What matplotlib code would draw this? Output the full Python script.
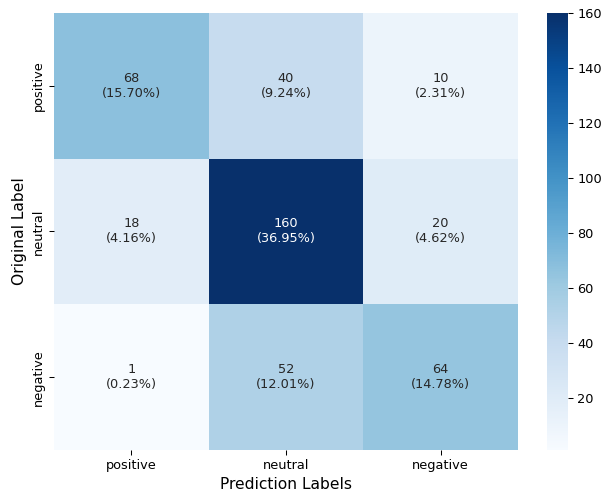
import matplotlib
matplotlib.use('Agg')
import matplotlib.pyplot as plt
import seaborn as sns
import numpy as np

labels = ['positive', 'neutral', 'negative']
row_positive = [68, 40, 10]
row_neutral = [18, 160, 20]
row_negative = [1, 52, 64]

cm = np.array([row_positive, row_neutral, row_negative])
total = cm.sum()
annot = np.array([[f"{v}\n({v / total * 100:.2f}%)" for v in row] for row in cm])

# reference looks like a slightly shrunk render, so use a lower dpi
dpi = 93
fig = plt.figure(figsize=(603 / dpi, 494 / dpi), dpi=dpi)
ax = fig.add_axes([0.0896, 0.0891, 0.7694, 0.8846])
cax = fig.add_axes([0.907, 0.0891, 0.035, 0.8846])

sns.heatmap(cm, annot=annot, fmt='', cmap='Blues', ax=ax, cbar_ax=cax,
            xticklabels=labels, yticklabels=labels, annot_kws={'fontsize': 10})

ax.set_xlabel('Prediction Labels', fontsize=12)
ax.set_ylabel('Original Label', fontsize=12)

fig.savefig('out.png', dpi=dpi)
